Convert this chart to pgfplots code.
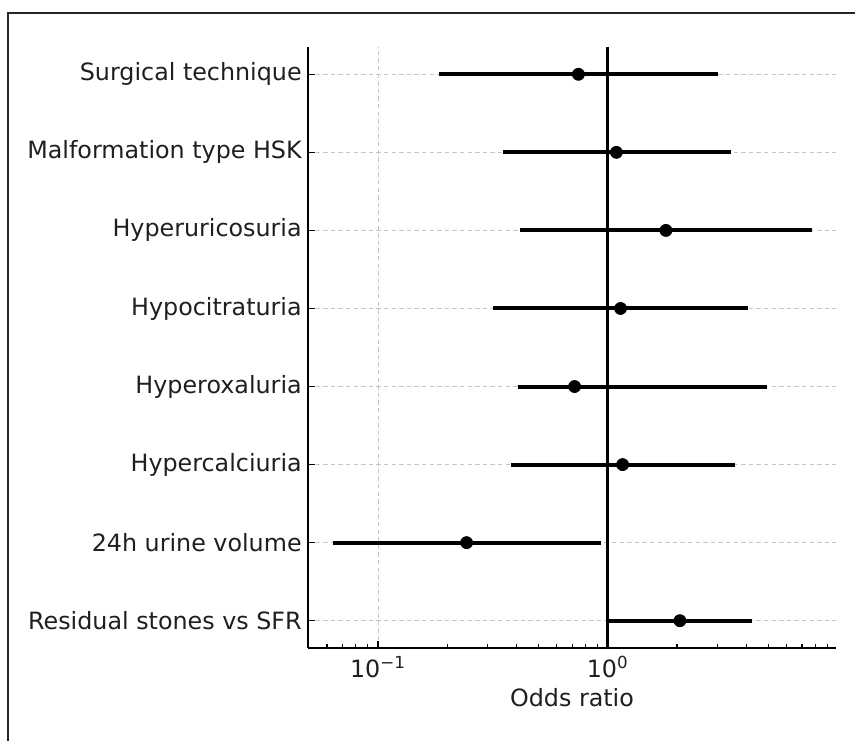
\documentclass[border=0pt]{standalone}
\usepackage{pgfplots}
\pgfplotsset{compat=1.18}
\usepackage{fontspec}
\setmainfont{DejaVu Sans}
\begin{document}
\fontsize{11.9}{14}\selectfont
\begin{tikzpicture}
\useasboundingbox (-154pt,-46pt) rectangle (273.5pt,324pt);
\draw[black!85, line width=0.7pt] (-150pt,-60pt) -- (-150pt,317.5pt) -- (290pt,317.5pt);
\begin{axis}[
  at={(0,0)}, anchor=south west,
  scale only axis, width=264pt, height=300.5pt,
  xmode=log, xmin=0.0496, xmax=9.84, ymin=-0.35, ymax=7.35,
  axis lines=left, axis line style={-, line width=0.85pt, black},
  tick align=inside,
  major tick length=3.5pt, minor tick length=2pt,
  tick style={black, line width=0.6pt},
  xtick={0.1,1},
  xticklabels={10\textsuperscript{−1},10\textsuperscript{0}},
  minor xtick={0.05,0.06,0.07,0.08,0.09,0.2,0.3,0.4,0.5,0.6,0.7,0.8,0.9,2,3,4,5,6,7,8,9},
  ytick={0,1,2,3,4,5,6,7},
  yticklabels={Residual stones vs SFR,24h urine volume,Hypercalciuria,Hyperoxaluria,Hypocitraturia,Hyperuricosuria,Malformation type HSK,Surgical technique},
  yticklabel style={xshift=1pt},
  xmajorgrids, ymajorgrids,
  major grid style={gray!45, line width=0.4pt, dash pattern=on 2.2pt off 1.6pt},
  tick label style={font=\fontsize{11.9}{14}\selectfont, text=black!88},
  label style={font=\fontsize{11.9}{14}\selectfont, text=black!88},
  xlabel={Odds ratio},
  xlabel style={yshift=3pt},
  clip=false,
]
% vertical reference line at OR = 1
\addplot[black, line width=1.5pt] coordinates {(1,-0.35) (1,7.35)};
% confidence intervals
\addplot[black, line width=2pt] coordinates {(0.185,7) (3.02,7)};
\addplot[black, line width=2pt] coordinates {(0.350,6) (3.42,6)};
\addplot[black, line width=2pt] coordinates {(0.414,5) (7.74,5)};
\addplot[black, line width=2pt] coordinates {(0.318,4) (4.08,4)};
\addplot[black, line width=2pt] coordinates {(0.408,3) (4.94,3)};
\addplot[black, line width=2pt] coordinates {(0.380,2) (3.57,2)};
\addplot[black, line width=2pt] coordinates {(0.0635,1) (0.932,1)};
\addplot[black, line width=2pt] coordinates {(1.00,0) (4.22,0)};
% odds ratios
\addplot[only marks, mark=*, mark size=3pt, black] coordinates {
  (0.745,7) (1.09,6) (1.79,5) (1.136,4) (0.717,3) (1.16,2) (0.243,1) (2.06,0)
};
\end{axis}
\end{tikzpicture}
\end{document}
